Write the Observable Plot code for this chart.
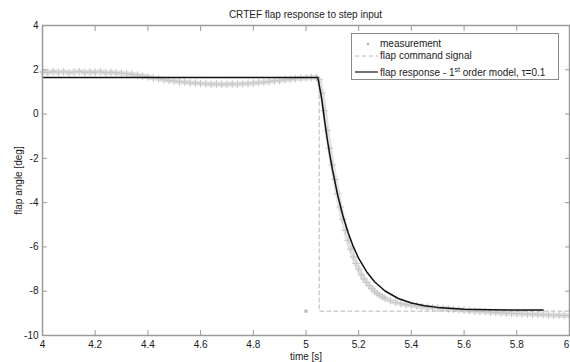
<!DOCTYPE html>
<html><head><meta charset="utf-8">
<script src="https://cdn.jsdelivr.net/npm/d3@7"></script>
<script src="https://cdn.jsdelivr.net/npm/@observablehq/plot@0.6"></script>
<style>
body{margin:0;background:#fff;font-family:"Liberation Sans",Arial,sans-serif;}
#wrap{position:relative;width:570px;height:362px;}
#title{position:absolute;top:9px;left:42px;width:527px;text-align:center;font-size:10px;color:#222;}
#legend{position:absolute;left:351px;top:33px;width:206px;height:45px;border:1px solid #8a8a8a;background:#fff;font-size:10px;color:#222;}
#legend svg{position:absolute;left:0;top:0;}
#legend .row{position:absolute;left:28px;white-space:nowrap;line-height:12px;}
#legend sup{font-size:7px;vertical-align:4px;line-height:0;}
</style></head><body>
<div id="wrap">
  <div id="chart"></div>
  <div id="title">CRTEF flap response to step input</div>
  <div id="legend">
    <svg width="206" height="45">
      <circle cx="16" cy="10" r="1.2" fill="#b0b0b0"></circle>
      <line x1="3" y1="22" x2="26" y2="22" stroke="#b8b8b8" stroke-dasharray="4,3"></line>
      <line x1="3" y1="38" x2="26" y2="38" stroke="#111" stroke-width="1.2"></line>
    </svg>
    <div class="row" style="top:4px">measurement</div>
    <div class="row" style="top:16px">flap command signal</div>
    <div class="row" style="top:33px">flap response - 1<sup>st</sup> order model, τ=0.1</div>
  </div>
</div>
<script>
// tick labels
const xTicks = [4, 4.2, 4.4, 4.6, 4.8, 5, 5.2, 5.4, 5.6, 5.8, 6];
const yTicks = [4, 2, 0, -2, -4, -6, -8, -10];

const measT = [
  4.00,4.02,4.04,4.06,4.08,4.10,4.12,4.14,4.16,4.18,4.20,4.22,4.24,4.26,4.28,4.30,
  4.32,4.34,4.36,4.38,4.40,4.42,4.44,4.46,4.48,4.50,4.52,4.54,4.56,4.58,4.60,4.62,
  4.64,4.66,4.68,4.70,4.72,4.74,4.76,4.78,4.80,4.82,4.84,4.86,4.88,4.90,4.92,4.94,
  4.96,4.98,5.00,5.02,5.04,
  5.05,5.06,5.07,5.08,5.09,5.10,5.11,5.12,5.13,5.14,5.15,5.16,5.17,5.18,5.19,5.20,
  5.21,5.22,5.23,5.24,5.25,5.26,5.27,5.28,5.29,5.30,
  5.32,5.34,5.36,5.38,5.40,5.42,5.44,5.46,5.48,5.50,5.52,5.54,5.56,5.58,5.60,5.62,
  5.64,5.66,5.68,5.70,5.72,5.74,5.76,5.78,5.80,5.82,5.84,5.86,5.88,5.90,5.92,5.94,
  5.96,5.98,6.00
];
const measV = [
  1.90,1.88,1.92,1.89,1.91,1.87,1.90,1.92,1.88,1.90,1.89,1.91,1.87,1.89,1.86,1.85,
  1.82,1.80,1.76,1.72,1.68,1.63,1.60,1.55,1.52,1.49,1.46,1.44,1.41,1.40,1.38,1.37,
  1.35,1.36,1.34,1.35,1.36,1.35,1.37,1.38,1.40,1.42,1.44,1.47,1.50,1.52,1.55,1.57,
  1.60,1.62,1.63,1.65,1.66,
  1.55,0.95,0.15,-0.75,-1.55,-2.30,-2.95,-3.60,-4.20,-4.75,-5.25,-5.70,-6.10,-6.45,-6.75,-7.00,
  -7.25,-7.45,-7.60,-7.75,-7.88,-8.00,-8.10,-8.18,-8.25,-8.32,
  -8.42,-8.50,-8.56,-8.60,-8.64,-8.67,-8.70,-8.72,-8.74,-8.76,-8.78,-8.80,-8.82,-8.84,-8.86,-8.88,
  -8.90,-8.92,-8.93,-8.95,-8.96,-8.98,-8.99,-9.00,-9.01,-9.02,-9.03,-9.04,-9.05,-9.06,-9.07,-9.08,
  -9.09,-9.10,-9.10
];
// isolated measurement sample
const outT = [5.0];
const outV = [-8.9];

// flap command signal
const cmdT = [4, 5.05, 5.05, 6];
const cmdV = [1.65, 1.65, -8.9, -8.9];

// 1st order model response
const modT = [4.00,5.045,5.06,5.07,5.08,5.09,5.10,5.12,5.14,5.16,5.18,5.20,5.23,5.26,5.30,5.35,5.40,5.45,5.50,5.60,5.70,5.80,5.90];
const modV = [1.65,1.65,0.66,-0.25,-1.08,-1.82,-2.49,-3.65,-4.59,-5.36,-6.00,-6.52,-7.12,-7.57,-7.99,-8.33,-8.53,-8.66,-8.73,-8.81,-8.84,-8.85,-8.85];

const meas = measT.map((t, i) => ({t, v: measV[i]}));
const outl = outT.map((t, i) => ({t, v: outV[i]}));
const cmd = cmdT.map((t, i) => ({t, v: cmdV[i]}));
const mod = modT.map((t, i) => ({t, v: modV[i]}));

const fmt = d => String(+(+d).toFixed(1));
const xInner = xTicks.slice(0, -1);
const xLast = xTicks.slice(-1);

const chart = Plot.plot({
  width: 570, height: 362,
  marginLeft: 42, marginRight: 1, marginTop: 25, marginBottom: 27,
  style: {fontFamily: "Liberation Sans, Arial, sans-serif", fontSize: "10px", color: "#1a1a1a", background: "#fff"},
  x: {domain: [4, 6]},
  y: {domain: [-10, 4]},
  marks: [
    Plot.line(meas, {x: "t", y: "v", stroke: "#e2e2e2", strokeWidth: 5}),
    Plot.dot(meas, {x: "t", y: "v", symbol: "plus", r: 2.6, stroke: "#c6c6c6", strokeWidth: 1}),
    Plot.dot(outl, {x: "t", y: "v", symbol: "square", r: 1.8, fill: "#b8b8b8"}),
    Plot.line(cmd, {x: "t", y: "v", stroke: "#b8b8b8", strokeWidth: 1, strokeDasharray: "4,3"}),
    Plot.line(mod, {x: "t", y: "v", stroke: "#111", strokeWidth: 1.5}),
    Plot.frame({stroke: "#9a9a9a", strokeWidth: 1.5}),
    Plot.axisX(xInner, {anchor: "bottom", tickSize: 0, tickPadding: 5, tickFormat: fmt, label: "time [s]", labelAnchor: "center", labelOffset: 24.5, labelArrow: "none"}),
    Plot.axisX(xLast, {anchor: "bottom", tickSize: 0, tickPadding: 5, tickFormat: fmt, label: null, dx: -3}),
    Plot.axisX(xTicks, {anchor: "bottom", tickSize: -5, tickFormat: () => "", label: null, stroke: "#999"}),
    Plot.axisX(xTicks, {anchor: "top", tickSize: -5, tickFormat: () => "", label: null, stroke: "#999"}),
    Plot.axisY(yTicks, {anchor: "left", tickSize: 0, tickPadding: 4, tickFormat: d => String(d), label: "flap angle [deg]", labelAnchor: "center", labelOffset: 28, labelArrow: "none"}),
    Plot.axisY(yTicks, {anchor: "left", tickSize: -5, tickFormat: () => "", label: null, stroke: "#999"}),
    Plot.axisY(yTicks, {anchor: "right", tickSize: -5, tickFormat: () => "", label: null, stroke: "#999"})
  ]
});
document.getElementById("chart").appendChild(chart);
</script>
</body></html>
